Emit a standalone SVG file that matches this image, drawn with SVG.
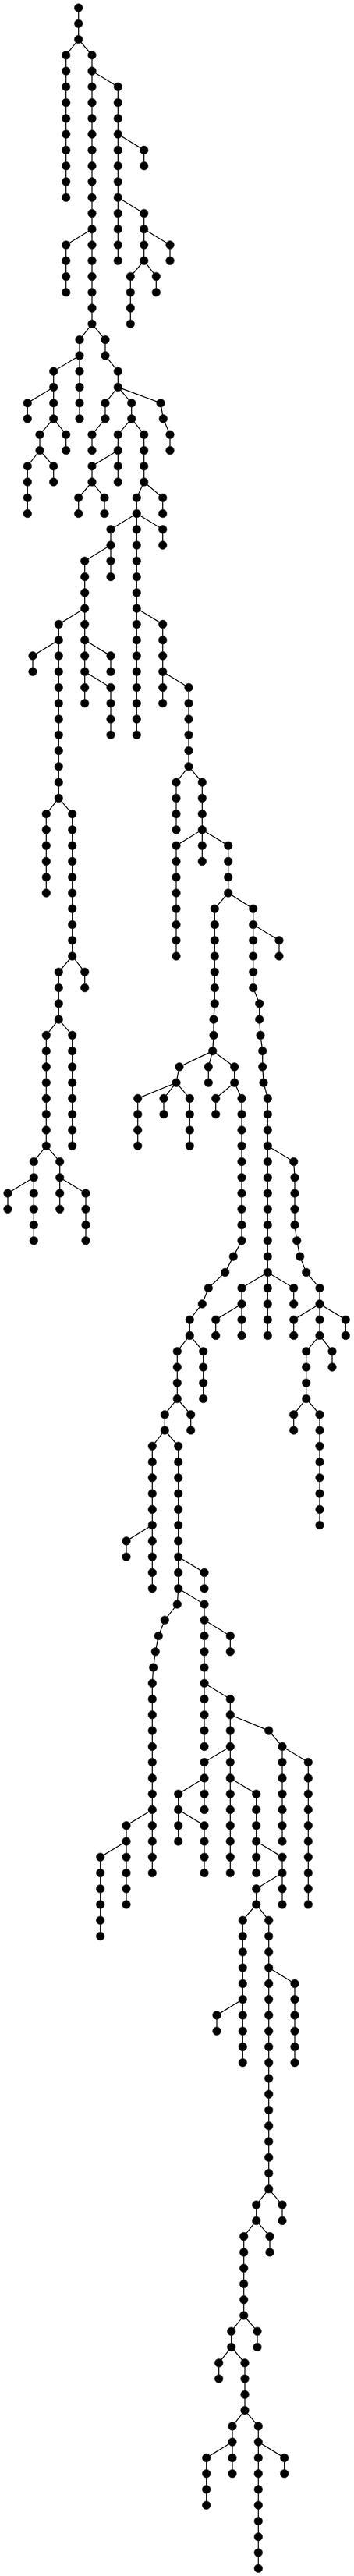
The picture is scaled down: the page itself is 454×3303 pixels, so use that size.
<svg xmlns="http://www.w3.org/2000/svg" width="454" height="3303" viewBox="0 0 454 3303">
<style>
#edges path{fill:none;stroke:#000;stroke-width:1.2}
.nodes circle{fill:#000;stroke:#222;stroke-width:0.6}
</style>
<rect width="454" height="3303" fill="#fff"/>
<g id="edges">
<path d="M100.7 10V50.5"/>
<path d="M100.7 50.5L84.7 70.8V253.2"/>
<path d="M100.7 50.5L118 70.8V415.3"/>
<path d="M118 91.1L151.3 111.3V334.3"/>
<path d="M151.3 172.1L184.7 192.4V212.7"/>
<path d="M151.3 253.2L184.7 273.5V334.3"/>
<path d="M118 293.7L84.7 314V374.8"/>
<path d="M184.7 293.7L218 314V334.3"/>
<path d="M184.7 334.3L167.3 354.5V415.3"/>
<path d="M184.7 334.3L200.3 354.5V374.8"/>
<path d="M118 415.3L102 435.6V536.9"/>
<path d="M118 415.3L135 435.6V455.9"/>
<path d="M135 455.9L151.3 476.1V496.4"/>
<path d="M102 455.9L68.7 476.1V536.9"/>
<path d="M68.7 496.4L35.3 516.7V536.9"/>
<path d="M68.7 536.9L51 557.2V577.5"/>
<path d="M68.7 536.9L84.7 557.2V577.5"/>
<path d="M151.3 496.4L135 516.7V536.9"/>
<path d="M135 536.9L118 557.2V577.5"/>
<path d="M151.3 496.4L168.7 516.7V536.9"/>
<path d="M168.7 536.9L151.3 557.2V618"/>
<path d="M168.7 536.9L184.7 557.2V618"/>
<path d="M151.3 496.4L206 516.7L209.3 536.9L218 557.2V577.5"/>
<path d="M51 577.5L35.3 597.7V658.5"/>
<path d="M51 577.5L68.7 597.7V618"/>
<path d="M151.3 577.5L118 597.7V618"/>
<path d="M118 618L100.7 638.3V658.5"/>
<path d="M118 618L134 638.3V658.5"/>
<path d="M184.7 618L175.3 638.3V658.5"/>
<path d="M184.7 618L208.7 638.3V658.5"/>
<path d="M175.3 658.5L142 678.8V739.6"/>
<path d="M175.3 658.5V942.3"/>
<path d="M175.3 658.5L208.7 678.8V699.1"/>
<path d="M142 699.1L108.7 719.3V901.7"/>
<path d="M108.7 780.1L75.3 800.4V1023.4"/>
<path d="M75.3 820.7L42 840.9V861.2"/>
<path d="M108.7 820.7L142 840.9V861.2"/>
<path d="M108.7 861.2L142 881.5V942.3"/>
<path d="M175.3 780.1L208.7 800.4V901.7"/>
<path d="M208.7 861.2L242 881.5V982.8"/>
<path d="M242 982.8L226 1003.1V1063.9"/>
<path d="M242 982.8L259.3 1003.1V1104.4"/>
<path d="M259.3 1063.9L226 1084.2V1226"/>
<path d="M259.3 1063.9L292.7 1084.2V1145"/>
<path d="M75.3 1023.4L59.3 1043.6V1145"/>
<path d="M75.3 1023.4L92.7 1043.6V1226"/>
<path d="M292.7 1145L275.3 1165.2V1286.8L274 1307.1V1327.4L272.7 1347.6"/>
<path d="M292.7 1145L324.7 1165.2V1266.6L332.7 1286.8V1307.1L334 1327.4L336.7 1347.6V1367.9L338 1388.2L343.3 1408.4V1712.4"/>
<path d="M324.7 1185.5L358 1205.8V1226"/>
<path d="M92.7 1226L75.3 1246.3V1307.1"/>
<path d="M92.7 1226L108.7 1246.3V1266.6"/>
<path d="M75.3 1307.1L59.3 1327.4V1469.2"/>
<path d="M75.3 1307.1L92.7 1327.4V1469.2"/>
<path d="M272.7 1347.6L230 1367.9L226 1388.2"/>
<path d="M272.7 1347.6L267.3 1367.9V1388.2"/>
<path d="M272.7 1347.6L300.7 1367.9V1388.2"/>
<path d="M226 1388.2L176.7 1408.4V1469.2"/>
<path d="M226 1388.2L210 1408.4V1428.7"/>
<path d="M226 1388.2L243.3 1408.4V1469.2"/>
<path d="M300.7 1388.2L276.7 1408.4V1428.7"/>
<path d="M300.7 1388.2L310 1408.4V1590.8L299.3 1611.1L288.7 1631.4L267.3 1651.6L259.3 1671.9L243.3 1692.2V1712.4"/>
<path d="M59.3 1469.2L43.3 1489.5V1590.8"/>
<path d="M59.3 1469.2L76.7 1489.5V1550.3"/>
<path d="M43.3 1509.8L10 1530V1550.3"/>
<path d="M76.7 1509.8L110 1530V1590.8"/>
<path d="M343.3 1469.2L376.7 1489.5L378 1509.8V1570.6L380.7 1590.8L384.7 1611.1L392.7 1631.4L410 1651.6V1712.4"/>
<path d="M343.3 1631.4L310 1651.6V1712.4"/>
<path d="M343.3 1631.4L376.7 1651.6V1671.9"/>
<path d="M310 1671.9L276.7 1692.2V1712.4"/>
<path d="M410 1671.9L376.7 1692.2V1712.4"/>
<path d="M410 1671.9L443.3 1692.2V1712.4"/>
<path d="M243.3 1712.4L227.3 1732.7V1793.5"/>
<path d="M243.3 1712.4L260.7 1732.7V1793.5"/>
<path d="M410 1712.4L392.7 1732.7V1793.5"/>
<path d="M410 1712.4L426 1732.7V1753"/>
<path d="M227.3 1793.5L211.3 1813.8V1834"/>
<path d="M227.3 1793.5L244.7 1813.8V1834"/>
<path d="M392.7 1793.5L376.7 1813.8V1834"/>
<path d="M392.7 1793.5L410 1813.8V1955.6"/>
<path d="M211.3 1834L195.3 1854.3V2036.7"/>
<path d="M211.3 1834L228.7 1854.3V2036.7L227.3 2057L211.3 2077.2L203.3 2097.5L199.3 2117.8L196.7 2138L195.3 2158.3V2401.5"/>
<path d="M195.3 1955.6L162 1975.9V1996.2"/>
<path d="M228.7 1996.2L262 2016.4V2036.7"/>
<path d="M228.7 2036.7L262 2057V2239.4"/>
<path d="M262 2077.2L295.3 2097.5V2117.8"/>
<path d="M262 2158.3L295.3 2178.6V2401.5"/>
<path d="M295.3 2198.8L344.7 2219.1L362 2239.4V2361"/>
<path d="M362 2239.4L395.3 2259.6V2442"/>
<path d="M295.3 2239.4L262 2259.6V2320.4"/>
<path d="M262 2279.9L228.7 2300.2V2361"/>
<path d="M228.7 2320.4L262 2340.7V2401.5"/>
<path d="M295.3 2279.9L328.7 2300.2V2401.5"/>
<path d="M328.7 2361L362 2381.2V2442"/>
<path d="M362 2401.5L328.7 2421.8V2442"/>
<path d="M195.3 2320.4L162 2340.7V2442"/>
<path d="M162 2361L128.7 2381.2V2482.6"/>
<path d="M328.7 2442L311.3 2462.3V2644.7"/>
<path d="M328.7 2442L344.7 2462.3V2806.8"/>
<path d="M311.3 2563.6L278 2583.9V2604.2"/>
<path d="M344.7 2523.1L378 2543.4V2644.7"/>
<path d="M344.7 2806.8L328.7 2827.1V2847.4"/>
<path d="M344.7 2806.8L362 2827.1V2847.4"/>
<path d="M328.7 2847.4L312.7 2867.6V2969"/>
<path d="M328.7 2847.4L346 2867.6V2887.9"/>
<path d="M312.7 2969L296.7 2989.2V3009.5"/>
<path d="M312.7 2969L330 2989.2V3009.5"/>
<path d="M296.7 3009.5L280.7 3029.8V3050.1"/>
<path d="M296.7 3009.5L314 3029.8V3090.6"/>
<path d="M314 3090.6L298 3110.9V3171.7"/>
<path d="M314 3090.6L331.3 3110.9V3293.3"/>
<path d="M298 3131.1L264.7 3151.4V3212.2"/>
<path d="M331.3 3131.1L364.7 3151.4V3171.7"/>
</g>
<g class="nodes">
<g id="s0-0"><circle cx="100.7" cy="10" r="5.3"/></g>
<g id="s0-1"><circle cx="100.7" cy="30.3" r="5.3"/></g>
<g id="s0-2"><circle cx="100.7" cy="50.5" r="5.3"/></g>
<g id="s1-3"><circle cx="84.7" cy="70.8" r="5.3"/></g>
<g id="s1-4"><circle cx="84.7" cy="91.1" r="5.3"/></g>
<g id="s1-5"><circle cx="84.7" cy="111.3" r="5.3"/></g>
<g id="s1-6"><circle cx="84.7" cy="131.6" r="5.3"/></g>
<g id="s1-7"><circle cx="84.7" cy="151.9" r="5.3"/></g>
<g id="s1-8"><circle cx="84.7" cy="172.1" r="5.3"/></g>
<g id="s1-9"><circle cx="84.7" cy="192.4" r="5.3"/></g>
<g id="s1-10"><circle cx="84.7" cy="212.7" r="5.3"/></g>
<g id="s1-11"><circle cx="84.7" cy="232.9" r="5.3"/></g>
<g id="s1-12"><circle cx="84.7" cy="253.2" r="5.3"/></g>
<g id="s2-3"><circle cx="118" cy="70.8" r="5.3"/></g>
<g id="s2-4"><circle cx="118" cy="91.1" r="5.3"/></g>
<g id="s2-5"><circle cx="118" cy="111.3" r="5.3"/></g>
<g id="s2-6"><circle cx="118" cy="131.6" r="5.3"/></g>
<g id="s2-7"><circle cx="118" cy="151.9" r="5.3"/></g>
<g id="s2-8"><circle cx="118" cy="172.1" r="5.3"/></g>
<g id="s2-9"><circle cx="118" cy="192.4" r="5.3"/></g>
<g id="s2-10"><circle cx="118" cy="212.7" r="5.3"/></g>
<g id="s2-11"><circle cx="118" cy="232.9" r="5.3"/></g>
<g id="s2-12"><circle cx="118" cy="253.2" r="5.3"/></g>
<g id="s2-13"><circle cx="118" cy="273.5" r="5.3"/></g>
<g id="s2-14"><circle cx="118" cy="293.7" r="5.3"/></g>
<g id="s2-15"><circle cx="118" cy="314" r="5.3"/></g>
<g id="s2-16"><circle cx="118" cy="334.3" r="5.3"/></g>
<g id="s2-17"><circle cx="118" cy="354.5" r="5.3"/></g>
<g id="s2-18"><circle cx="118" cy="374.8" r="5.3"/></g>
<g id="s2-19"><circle cx="118" cy="395.1" r="5.3"/></g>
<g id="s2-20"><circle cx="118" cy="415.3" r="5.3"/></g>
<g id="s3-5"><circle cx="151.3" cy="111.3" r="5.3"/></g>
<g id="s3-6"><circle cx="151.3" cy="131.6" r="5.3"/></g>
<g id="s3-7"><circle cx="151.3" cy="151.9" r="5.3"/></g>
<g id="s3-8"><circle cx="151.3" cy="172.1" r="5.3"/></g>
<g id="s3-9"><circle cx="151.3" cy="192.4" r="5.3"/></g>
<g id="s3-10"><circle cx="151.3" cy="212.7" r="5.3"/></g>
<g id="s3-11"><circle cx="151.3" cy="232.9" r="5.3"/></g>
<g id="s3-12"><circle cx="151.3" cy="253.2" r="5.3"/></g>
<g id="s3-13"><circle cx="151.3" cy="273.5" r="5.3"/></g>
<g id="s3-14"><circle cx="151.3" cy="293.7" r="5.3"/></g>
<g id="s3-15"><circle cx="151.3" cy="314" r="5.3"/></g>
<g id="s3-16"><circle cx="151.3" cy="334.3" r="5.3"/></g>
<g id="s4-9"><circle cx="184.7" cy="192.4" r="5.3"/></g>
<g id="s4-10"><circle cx="184.7" cy="212.7" r="5.3"/></g>
<g id="s5-13"><circle cx="184.7" cy="273.5" r="5.3"/></g>
<g id="s5-14"><circle cx="184.7" cy="293.7" r="5.3"/></g>
<g id="s5-15"><circle cx="184.7" cy="314" r="5.3"/></g>
<g id="s5-16"><circle cx="184.7" cy="334.3" r="5.3"/></g>
<g id="s6-15"><circle cx="84.7" cy="314" r="5.3"/></g>
<g id="s6-16"><circle cx="84.7" cy="334.3" r="5.3"/></g>
<g id="s6-17"><circle cx="84.7" cy="354.5" r="5.3"/></g>
<g id="s6-18"><circle cx="84.7" cy="374.8" r="5.3"/></g>
<g id="s7-15"><circle cx="218" cy="314" r="5.3"/></g>
<g id="s7-16"><circle cx="218" cy="334.3" r="5.3"/></g>
<g id="s8-17"><circle cx="167.3" cy="354.5" r="5.3"/></g>
<g id="s8-18"><circle cx="167.3" cy="374.8" r="5.3"/></g>
<g id="s8-19"><circle cx="167.3" cy="395.1" r="5.3"/></g>
<g id="s8-20"><circle cx="167.3" cy="415.3" r="5.3"/></g>
<g id="s9-17"><circle cx="200.3" cy="354.5" r="5.3"/></g>
<g id="s9-18"><circle cx="200.3" cy="374.8" r="5.3"/></g>
<g id="s10-21"><circle cx="102" cy="435.6" r="5.3"/></g>
<g id="s10-22"><circle cx="102" cy="455.9" r="5.3"/></g>
<g id="s10-23"><circle cx="102" cy="476.1" r="5.3"/></g>
<g id="s10-24"><circle cx="102" cy="496.4" r="5.3"/></g>
<g id="s10-25"><circle cx="102" cy="516.7" r="5.3"/></g>
<g id="s10-26"><circle cx="102" cy="536.9" r="5.3"/></g>
<g id="s11-21"><circle cx="135" cy="435.6" r="5.3"/></g>
<g id="s11-22"><circle cx="135" cy="455.9" r="5.3"/></g>
<g id="s12-23"><circle cx="151.3" cy="476.1" r="5.3"/></g>
<g id="s12-24"><circle cx="151.3" cy="496.4" r="5.3"/></g>
<g id="s13-23"><circle cx="68.7" cy="476.1" r="5.3"/></g>
<g id="s13-24"><circle cx="68.7" cy="496.4" r="5.3"/></g>
<g id="s13-25"><circle cx="68.7" cy="516.7" r="5.3"/></g>
<g id="s13-26"><circle cx="68.7" cy="536.9" r="5.3"/></g>
<g id="s14-25"><circle cx="35.3" cy="516.7" r="5.3"/></g>
<g id="s14-26"><circle cx="35.3" cy="536.9" r="5.3"/></g>
<g id="s15-27"><circle cx="51" cy="557.2" r="5.3"/></g>
<g id="s15-28"><circle cx="51" cy="577.5" r="5.3"/></g>
<g id="s16-27"><circle cx="84.7" cy="557.2" r="5.3"/></g>
<g id="s16-28"><circle cx="84.7" cy="577.5" r="5.3"/></g>
<g id="s17-25"><circle cx="135" cy="516.7" r="5.3"/></g>
<g id="s17-26"><circle cx="135" cy="536.9" r="5.3"/></g>
<g id="s18-27"><circle cx="118" cy="557.2" r="5.3"/></g>
<g id="s18-28"><circle cx="118" cy="577.5" r="5.3"/></g>
<g id="s19-25"><circle cx="168.7" cy="516.7" r="5.3"/></g>
<g id="s19-26"><circle cx="168.7" cy="536.9" r="5.3"/></g>
<g id="s20-27"><circle cx="151.3" cy="557.2" r="5.3"/></g>
<g id="s20-28"><circle cx="151.3" cy="577.5" r="5.3"/></g>
<g id="s20-29"><circle cx="151.3" cy="597.7" r="5.3"/></g>
<g id="s20-30"><circle cx="151.3" cy="618" r="5.3"/></g>
<g id="s21-27"><circle cx="184.7" cy="557.2" r="5.3"/></g>
<g id="s21-28"><circle cx="184.7" cy="577.5" r="5.3"/></g>
<g id="s21-29"><circle cx="184.7" cy="597.7" r="5.3"/></g>
<g id="s21-30"><circle cx="184.7" cy="618" r="5.3"/></g>
<g id="s22-25"><circle cx="206" cy="516.7" r="5.3"/></g>
<g id="s22-26"><circle cx="209.3" cy="536.9" r="5.3"/></g>
<g id="s22-27"><circle cx="218" cy="557.2" r="5.3"/></g>
<g id="s22-28"><circle cx="218" cy="577.5" r="5.3"/></g>
<g id="s23-29"><circle cx="35.3" cy="597.7" r="5.3"/></g>
<g id="s23-30"><circle cx="35.3" cy="618" r="5.3"/></g>
<g id="s23-31"><circle cx="35.3" cy="638.3" r="5.3"/></g>
<g id="s23-32"><circle cx="35.3" cy="658.5" r="5.3"/></g>
<g id="s24-29"><circle cx="68.7" cy="597.7" r="5.3"/></g>
<g id="s24-30"><circle cx="68.7" cy="618" r="5.3"/></g>
<g id="s25-29"><circle cx="118" cy="597.7" r="5.3"/></g>
<g id="s25-30"><circle cx="118" cy="618" r="5.3"/></g>
<g id="s26-31"><circle cx="100.7" cy="638.3" r="5.3"/></g>
<g id="s26-32"><circle cx="100.7" cy="658.5" r="5.3"/></g>
<g id="s27-31"><circle cx="134" cy="638.3" r="5.3"/></g>
<g id="s27-32"><circle cx="134" cy="658.5" r="5.3"/></g>
<g id="s28-31"><circle cx="175.3" cy="638.3" r="5.3"/></g>
<g id="s28-32"><circle cx="175.3" cy="658.5" r="5.3"/></g>
<g id="s29-31"><circle cx="208.7" cy="638.3" r="5.3"/></g>
<g id="s29-32"><circle cx="208.7" cy="658.5" r="5.3"/></g>
<g id="s30-33"><circle cx="142" cy="678.8" r="5.3"/></g>
<g id="s30-34"><circle cx="142" cy="699.1" r="5.3"/></g>
<g id="s30-35"><circle cx="142" cy="719.3" r="5.3"/></g>
<g id="s30-36"><circle cx="142" cy="739.6" r="5.3"/></g>
<g id="s31-33"><circle cx="175.3" cy="678.8" r="5.3"/></g>
<g id="s31-34"><circle cx="175.3" cy="699.1" r="5.3"/></g>
<g id="s31-35"><circle cx="175.3" cy="719.3" r="5.3"/></g>
<g id="s31-36"><circle cx="175.3" cy="739.6" r="5.3"/></g>
<g id="s31-37"><circle cx="175.3" cy="759.9" r="5.3"/></g>
<g id="s31-38"><circle cx="175.3" cy="780.1" r="5.3"/></g>
<g id="s31-39"><circle cx="175.3" cy="800.4" r="5.3"/></g>
<g id="s31-40"><circle cx="175.3" cy="820.7" r="5.3"/></g>
<g id="s31-41"><circle cx="175.3" cy="840.9" r="5.3"/></g>
<g id="s31-42"><circle cx="175.3" cy="861.2" r="5.3"/></g>
<g id="s31-43"><circle cx="175.3" cy="881.5" r="5.3"/></g>
<g id="s31-44"><circle cx="175.3" cy="901.7" r="5.3"/></g>
<g id="s31-45"><circle cx="175.3" cy="922" r="5.3"/></g>
<g id="s31-46"><circle cx="175.3" cy="942.3" r="5.3"/></g>
<g id="s32-33"><circle cx="208.7" cy="678.8" r="5.3"/></g>
<g id="s32-34"><circle cx="208.7" cy="699.1" r="5.3"/></g>
<g id="s33-35"><circle cx="108.7" cy="719.3" r="5.3"/></g>
<g id="s33-36"><circle cx="108.7" cy="739.6" r="5.3"/></g>
<g id="s33-37"><circle cx="108.7" cy="759.9" r="5.3"/></g>
<g id="s33-38"><circle cx="108.7" cy="780.1" r="5.3"/></g>
<g id="s33-39"><circle cx="108.7" cy="800.4" r="5.3"/></g>
<g id="s33-40"><circle cx="108.7" cy="820.7" r="5.3"/></g>
<g id="s33-41"><circle cx="108.7" cy="840.9" r="5.3"/></g>
<g id="s33-42"><circle cx="108.7" cy="861.2" r="5.3"/></g>
<g id="s33-43"><circle cx="108.7" cy="881.5" r="5.3"/></g>
<g id="s33-44"><circle cx="108.7" cy="901.7" r="5.3"/></g>
<g id="s34-39"><circle cx="75.3" cy="800.4" r="5.3"/></g>
<g id="s34-40"><circle cx="75.3" cy="820.7" r="5.3"/></g>
<g id="s34-41"><circle cx="75.3" cy="840.9" r="5.3"/></g>
<g id="s34-42"><circle cx="75.3" cy="861.2" r="5.3"/></g>
<g id="s34-43"><circle cx="75.3" cy="881.5" r="5.3"/></g>
<g id="s34-44"><circle cx="75.3" cy="901.7" r="5.3"/></g>
<g id="s34-45"><circle cx="75.3" cy="922" r="5.3"/></g>
<g id="s34-46"><circle cx="75.3" cy="942.3" r="5.3"/></g>
<g id="s34-47"><circle cx="75.3" cy="962.5" r="5.3"/></g>
<g id="s34-48"><circle cx="75.3" cy="982.8" r="5.3"/></g>
<g id="s34-49"><circle cx="75.3" cy="1003.1" r="5.3"/></g>
<g id="s34-50"><circle cx="75.3" cy="1023.4" r="5.3"/></g>
<g id="s35-41"><circle cx="42" cy="840.9" r="5.3"/></g>
<g id="s35-42"><circle cx="42" cy="861.2" r="5.3"/></g>
<g id="s36-41"><circle cx="142" cy="840.9" r="5.3"/></g>
<g id="s36-42"><circle cx="142" cy="861.2" r="5.3"/></g>
<g id="s37-43"><circle cx="142" cy="881.5" r="5.3"/></g>
<g id="s37-44"><circle cx="142" cy="901.7" r="5.3"/></g>
<g id="s37-45"><circle cx="142" cy="922" r="5.3"/></g>
<g id="s37-46"><circle cx="142" cy="942.3" r="5.3"/></g>
<g id="s38-39"><circle cx="208.7" cy="800.4" r="5.3"/></g>
<g id="s38-40"><circle cx="208.7" cy="820.7" r="5.3"/></g>
<g id="s38-41"><circle cx="208.7" cy="840.9" r="5.3"/></g>
<g id="s38-42"><circle cx="208.7" cy="861.2" r="5.3"/></g>
<g id="s38-43"><circle cx="208.7" cy="881.5" r="5.3"/></g>
<g id="s38-44"><circle cx="208.7" cy="901.7" r="5.3"/></g>
<g id="s39-43"><circle cx="242" cy="881.5" r="5.3"/></g>
<g id="s39-44"><circle cx="242" cy="901.7" r="5.3"/></g>
<g id="s39-45"><circle cx="242" cy="922" r="5.3"/></g>
<g id="s39-46"><circle cx="242" cy="942.3" r="5.3"/></g>
<g id="s39-47"><circle cx="242" cy="962.5" r="5.3"/></g>
<g id="s39-48"><circle cx="242" cy="982.8" r="5.3"/></g>
<g id="s40-49"><circle cx="226" cy="1003.1" r="5.3"/></g>
<g id="s40-50"><circle cx="226" cy="1023.4" r="5.3"/></g>
<g id="s40-51"><circle cx="226" cy="1043.6" r="5.3"/></g>
<g id="s40-52"><circle cx="226" cy="1063.9" r="5.3"/></g>
<g id="s41-49"><circle cx="259.3" cy="1003.1" r="5.3"/></g>
<g id="s41-50"><circle cx="259.3" cy="1023.4" r="5.3"/></g>
<g id="s41-51"><circle cx="259.3" cy="1043.6" r="5.3"/></g>
<g id="s41-52"><circle cx="259.3" cy="1063.9" r="5.3"/></g>
<g id="s41-53"><circle cx="259.3" cy="1084.2" r="5.3"/></g>
<g id="s41-54"><circle cx="259.3" cy="1104.4" r="5.3"/></g>
<g id="s42-53"><circle cx="226" cy="1084.2" r="5.3"/></g>
<g id="s42-54"><circle cx="226" cy="1104.4" r="5.3"/></g>
<g id="s42-55"><circle cx="226" cy="1124.7" r="5.3"/></g>
<g id="s42-56"><circle cx="226" cy="1145" r="5.3"/></g>
<g id="s42-57"><circle cx="226" cy="1165.2" r="5.3"/></g>
<g id="s42-58"><circle cx="226" cy="1185.5" r="5.3"/></g>
<g id="s42-59"><circle cx="226" cy="1205.8" r="5.3"/></g>
<g id="s42-60"><circle cx="226" cy="1226" r="5.3"/></g>
<g id="s43-53"><circle cx="292.7" cy="1084.2" r="5.3"/></g>
<g id="s43-54"><circle cx="292.7" cy="1104.4" r="5.3"/></g>
<g id="s43-55"><circle cx="292.7" cy="1124.7" r="5.3"/></g>
<g id="s43-56"><circle cx="292.7" cy="1145" r="5.3"/></g>
<g id="s44-51"><circle cx="59.3" cy="1043.6" r="5.3"/></g>
<g id="s44-52"><circle cx="59.3" cy="1063.9" r="5.3"/></g>
<g id="s44-53"><circle cx="59.3" cy="1084.2" r="5.3"/></g>
<g id="s44-54"><circle cx="59.3" cy="1104.4" r="5.3"/></g>
<g id="s44-55"><circle cx="59.3" cy="1124.7" r="5.3"/></g>
<g id="s44-56"><circle cx="59.3" cy="1145" r="5.3"/></g>
<g id="s45-51"><circle cx="92.7" cy="1043.6" r="5.3"/></g>
<g id="s45-52"><circle cx="92.7" cy="1063.9" r="5.3"/></g>
<g id="s45-53"><circle cx="92.7" cy="1084.2" r="5.3"/></g>
<g id="s45-54"><circle cx="92.7" cy="1104.4" r="5.3"/></g>
<g id="s45-55"><circle cx="92.7" cy="1124.7" r="5.3"/></g>
<g id="s45-56"><circle cx="92.7" cy="1145" r="5.3"/></g>
<g id="s45-57"><circle cx="92.7" cy="1165.2" r="5.3"/></g>
<g id="s45-58"><circle cx="92.7" cy="1185.5" r="5.3"/></g>
<g id="s45-59"><circle cx="92.7" cy="1205.8" r="5.3"/></g>
<g id="s45-60"><circle cx="92.7" cy="1226" r="5.3"/></g>
<g id="s46-57"><circle cx="275.3" cy="1165.2" r="5.3"/></g>
<g id="s46-58"><circle cx="275.3" cy="1185.5" r="5.3"/></g>
<g id="s46-59"><circle cx="275.3" cy="1205.8" r="5.3"/></g>
<g id="s46-60"><circle cx="275.3" cy="1226" r="5.3"/></g>
<g id="s46-61"><circle cx="275.3" cy="1246.3" r="5.3"/></g>
<g id="s46-62"><circle cx="275.3" cy="1266.6" r="5.3"/></g>
<g id="s46-63"><circle cx="275.3" cy="1286.8" r="5.3"/></g>
<g id="s46-64"><circle cx="274" cy="1307.1" r="5.3"/></g>
<g id="s46-65"><circle cx="274" cy="1327.4" r="5.3"/></g>
<g id="s46-66"><circle cx="272.7" cy="1347.6" r="5.3"/></g>
<g id="s47-57"><circle cx="324.7" cy="1165.2" r="5.3"/></g>
<g id="s47-58"><circle cx="324.7" cy="1185.5" r="5.3"/></g>
<g id="s47-59"><circle cx="324.7" cy="1205.8" r="5.3"/></g>
<g id="s47-60"><circle cx="324.7" cy="1226" r="5.3"/></g>
<g id="s47-61"><circle cx="324.7" cy="1246.3" r="5.3"/></g>
<g id="s47-62"><circle cx="324.7" cy="1266.6" r="5.3"/></g>
<g id="s47-63"><circle cx="332.7" cy="1286.8" r="5.3"/></g>
<g id="s47-64"><circle cx="332.7" cy="1307.1" r="5.3"/></g>
<g id="s47-65"><circle cx="334" cy="1327.4" r="5.3"/></g>
<g id="s47-66"><circle cx="336.7" cy="1347.6" r="5.3"/></g>
<g id="s47-67"><circle cx="336.7" cy="1367.9" r="5.3"/></g>
<g id="s47-68"><circle cx="338" cy="1388.2" r="5.3"/></g>
<g id="s47-69"><circle cx="343.3" cy="1408.4" r="5.3"/></g>
<g id="s47-70"><circle cx="343.3" cy="1428.7" r="5.3"/></g>
<g id="s47-71"><circle cx="343.3" cy="1449" r="5.3"/></g>
<g id="s47-72"><circle cx="343.3" cy="1469.2" r="5.3"/></g>
<g id="s47-73"><circle cx="343.3" cy="1489.5" r="5.3"/></g>
<g id="s47-74"><circle cx="343.3" cy="1509.8" r="5.3"/></g>
<g id="s47-75"><circle cx="343.3" cy="1530" r="5.3"/></g>
<g id="s47-76"><circle cx="343.3" cy="1550.3" r="5.3"/></g>
<g id="s47-77"><circle cx="343.3" cy="1570.6" r="5.3"/></g>
<g id="s47-78"><circle cx="343.3" cy="1590.8" r="5.3"/></g>
<g id="s47-79"><circle cx="343.3" cy="1611.1" r="5.3"/></g>
<g id="s47-80"><circle cx="343.3" cy="1631.4" r="5.3"/></g>
<g id="s47-81"><circle cx="343.3" cy="1651.6" r="5.3"/></g>
<g id="s47-82"><circle cx="343.3" cy="1671.9" r="5.3"/></g>
<g id="s47-83"><circle cx="343.3" cy="1692.2" r="5.3"/></g>
<g id="s47-84"><circle cx="343.3" cy="1712.4" r="5.3"/></g>
<g id="s48-59"><circle cx="358" cy="1205.8" r="5.3"/></g>
<g id="s48-60"><circle cx="358" cy="1226" r="5.3"/></g>
<g id="s49-61"><circle cx="75.3" cy="1246.3" r="5.3"/></g>
<g id="s49-62"><circle cx="75.3" cy="1266.6" r="5.3"/></g>
<g id="s49-63"><circle cx="75.3" cy="1286.8" r="5.3"/></g>
<g id="s49-64"><circle cx="75.3" cy="1307.1" r="5.3"/></g>
<g id="s50-61"><circle cx="108.7" cy="1246.3" r="5.3"/></g>
<g id="s50-62"><circle cx="108.7" cy="1266.6" r="5.3"/></g>
<g id="s51-65"><circle cx="59.3" cy="1327.4" r="5.3"/></g>
<g id="s51-66"><circle cx="59.3" cy="1347.6" r="5.3"/></g>
<g id="s51-67"><circle cx="59.3" cy="1367.9" r="5.3"/></g>
<g id="s51-68"><circle cx="59.3" cy="1388.2" r="5.3"/></g>
<g id="s51-69"><circle cx="59.3" cy="1408.4" r="5.3"/></g>
<g id="s51-70"><circle cx="59.3" cy="1428.7" r="5.3"/></g>
<g id="s51-71"><circle cx="59.3" cy="1449" r="5.3"/></g>
<g id="s51-72"><circle cx="59.3" cy="1469.2" r="5.3"/></g>
<g id="s52-65"><circle cx="92.7" cy="1327.4" r="5.3"/></g>
<g id="s52-66"><circle cx="92.7" cy="1347.6" r="5.3"/></g>
<g id="s52-67"><circle cx="92.7" cy="1367.9" r="5.3"/></g>
<g id="s52-68"><circle cx="92.7" cy="1388.2" r="5.3"/></g>
<g id="s52-69"><circle cx="92.7" cy="1408.4" r="5.3"/></g>
<g id="s52-70"><circle cx="92.7" cy="1428.7" r="5.3"/></g>
<g id="s52-71"><circle cx="92.7" cy="1449" r="5.3"/></g>
<g id="s52-72"><circle cx="92.7" cy="1469.2" r="5.3"/></g>
<g id="s53-67"><circle cx="230" cy="1367.9" r="5.3"/></g>
<g id="s53-68"><circle cx="226" cy="1388.2" r="5.3"/></g>
<g id="s54-67"><circle cx="267.3" cy="1367.9" r="5.3"/></g>
<g id="s54-68"><circle cx="267.3" cy="1388.2" r="5.3"/></g>
<g id="s55-67"><circle cx="300.7" cy="1367.9" r="5.3"/></g>
<g id="s55-68"><circle cx="300.7" cy="1388.2" r="5.3"/></g>
<g id="s56-69"><circle cx="176.7" cy="1408.4" r="5.3"/></g>
<g id="s56-70"><circle cx="176.7" cy="1428.7" r="5.3"/></g>
<g id="s56-71"><circle cx="176.7" cy="1449" r="5.3"/></g>
<g id="s56-72"><circle cx="176.7" cy="1469.2" r="5.3"/></g>
<g id="s57-69"><circle cx="210" cy="1408.4" r="5.3"/></g>
<g id="s57-70"><circle cx="210" cy="1428.7" r="5.3"/></g>
<g id="s58-69"><circle cx="243.3" cy="1408.4" r="5.3"/></g>
<g id="s58-70"><circle cx="243.3" cy="1428.7" r="5.3"/></g>
<g id="s58-71"><circle cx="243.3" cy="1449" r="5.3"/></g>
<g id="s58-72"><circle cx="243.3" cy="1469.2" r="5.3"/></g>
<g id="s59-69"><circle cx="276.7" cy="1408.4" r="5.3"/></g>
<g id="s59-70"><circle cx="276.7" cy="1428.7" r="5.3"/></g>
<g id="s60-69"><circle cx="310" cy="1408.4" r="5.3"/></g>
<g id="s60-70"><circle cx="310" cy="1428.7" r="5.3"/></g>
<g id="s60-71"><circle cx="310" cy="1449" r="5.3"/></g>
<g id="s60-72"><circle cx="310" cy="1469.2" r="5.3"/></g>
<g id="s60-73"><circle cx="310" cy="1489.5" r="5.3"/></g>
<g id="s60-74"><circle cx="310" cy="1509.8" r="5.3"/></g>
<g id="s60-75"><circle cx="310" cy="1530" r="5.3"/></g>
<g id="s60-76"><circle cx="310" cy="1550.3" r="5.3"/></g>
<g id="s60-77"><circle cx="310" cy="1570.6" r="5.3"/></g>
<g id="s60-78"><circle cx="310" cy="1590.8" r="5.3"/></g>
<g id="s60-79"><circle cx="299.3" cy="1611.1" r="5.3"/></g>
<g id="s60-80"><circle cx="288.7" cy="1631.4" r="5.3"/></g>
<g id="s60-81"><circle cx="267.3" cy="1651.6" r="5.3"/></g>
<g id="s60-82"><circle cx="259.3" cy="1671.9" r="5.3"/></g>
<g id="s60-83"><circle cx="243.3" cy="1692.2" r="5.3"/></g>
<g id="s60-84"><circle cx="243.3" cy="1712.4" r="5.3"/></g>
<g id="s61-73"><circle cx="43.3" cy="1489.5" r="5.3"/></g>
<g id="s61-74"><circle cx="43.3" cy="1509.8" r="5.3"/></g>
<g id="s61-75"><circle cx="43.3" cy="1530" r="5.3"/></g>
<g id="s61-76"><circle cx="43.3" cy="1550.3" r="5.3"/></g>
<g id="s61-77"><circle cx="43.3" cy="1570.6" r="5.3"/></g>
<g id="s61-78"><circle cx="43.3" cy="1590.8" r="5.3"/></g>
<g id="s62-73"><circle cx="76.7" cy="1489.5" r="5.3"/></g>
<g id="s62-74"><circle cx="76.7" cy="1509.8" r="5.3"/></g>
<g id="s62-75"><circle cx="76.7" cy="1530" r="5.3"/></g>
<g id="s62-76"><circle cx="76.7" cy="1550.3" r="5.3"/></g>
<g id="s63-75"><circle cx="10" cy="1530" r="5.3"/></g>
<g id="s63-76"><circle cx="10" cy="1550.3" r="5.3"/></g>
<g id="s64-75"><circle cx="110" cy="1530" r="5.3"/></g>
<g id="s64-76"><circle cx="110" cy="1550.3" r="5.3"/></g>
<g id="s64-77"><circle cx="110" cy="1570.6" r="5.3"/></g>
<g id="s64-78"><circle cx="110" cy="1590.8" r="5.3"/></g>
<g id="s65-73"><circle cx="376.7" cy="1489.5" r="5.3"/></g>
<g id="s65-74"><circle cx="378" cy="1509.8" r="5.3"/></g>
<g id="s65-75"><circle cx="378" cy="1530" r="5.3"/></g>
<g id="s65-76"><circle cx="378" cy="1550.3" r="5.3"/></g>
<g id="s65-77"><circle cx="378" cy="1570.6" r="5.3"/></g>
<g id="s65-78"><circle cx="380.7" cy="1590.8" r="5.3"/></g>
<g id="s65-79"><circle cx="384.7" cy="1611.1" r="5.3"/></g>
<g id="s65-80"><circle cx="392.7" cy="1631.4" r="5.3"/></g>
<g id="s65-81"><circle cx="410" cy="1651.6" r="5.3"/></g>
<g id="s65-82"><circle cx="410" cy="1671.9" r="5.3"/></g>
<g id="s65-83"><circle cx="410" cy="1692.2" r="5.3"/></g>
<g id="s65-84"><circle cx="410" cy="1712.4" r="5.3"/></g>
<g id="s66-81"><circle cx="310" cy="1651.6" r="5.3"/></g>
<g id="s66-82"><circle cx="310" cy="1671.9" r="5.3"/></g>
<g id="s66-83"><circle cx="310" cy="1692.2" r="5.3"/></g>
<g id="s66-84"><circle cx="310" cy="1712.4" r="5.3"/></g>
<g id="s67-81"><circle cx="376.7" cy="1651.6" r="5.3"/></g>
<g id="s67-82"><circle cx="376.7" cy="1671.9" r="5.3"/></g>
<g id="s68-83"><circle cx="276.7" cy="1692.2" r="5.3"/></g>
<g id="s68-84"><circle cx="276.7" cy="1712.4" r="5.3"/></g>
<g id="s69-83"><circle cx="376.7" cy="1692.2" r="5.3"/></g>
<g id="s69-84"><circle cx="376.7" cy="1712.4" r="5.3"/></g>
<g id="s70-83"><circle cx="443.3" cy="1692.2" r="5.3"/></g>
<g id="s70-84"><circle cx="443.3" cy="1712.4" r="5.3"/></g>
<g id="s71-85"><circle cx="227.3" cy="1732.7" r="5.3"/></g>
<g id="s71-86"><circle cx="227.3" cy="1753" r="5.3"/></g>
<g id="s71-87"><circle cx="227.3" cy="1773.2" r="5.3"/></g>
<g id="s71-88"><circle cx="227.3" cy="1793.5" r="5.3"/></g>
<g id="s72-85"><circle cx="260.7" cy="1732.7" r="5.3"/></g>
<g id="s72-86"><circle cx="260.7" cy="1753" r="5.3"/></g>
<g id="s72-87"><circle cx="260.7" cy="1773.2" r="5.3"/></g>
<g id="s72-88"><circle cx="260.7" cy="1793.5" r="5.3"/></g>
<g id="s73-85"><circle cx="392.7" cy="1732.7" r="5.3"/></g>
<g id="s73-86"><circle cx="392.7" cy="1753" r="5.3"/></g>
<g id="s73-87"><circle cx="392.7" cy="1773.2" r="5.3"/></g>
<g id="s73-88"><circle cx="392.7" cy="1793.5" r="5.3"/></g>
<g id="s74-85"><circle cx="426" cy="1732.7" r="5.3"/></g>
<g id="s74-86"><circle cx="426" cy="1753" r="5.3"/></g>
<g id="s75-89"><circle cx="211.3" cy="1813.8" r="5.3"/></g>
<g id="s75-90"><circle cx="211.3" cy="1834" r="5.3"/></g>
<g id="s76-89"><circle cx="244.7" cy="1813.8" r="5.3"/></g>
<g id="s76-90"><circle cx="244.7" cy="1834" r="5.3"/></g>
<g id="s77-89"><circle cx="376.7" cy="1813.8" r="5.3"/></g>
<g id="s77-90"><circle cx="376.7" cy="1834" r="5.3"/></g>
<g id="s78-89"><circle cx="410" cy="1813.8" r="5.3"/></g>
<g id="s78-90"><circle cx="410" cy="1834" r="5.3"/></g>
<g id="s78-91"><circle cx="410" cy="1854.3" r="5.3"/></g>
<g id="s78-92"><circle cx="410" cy="1874.6" r="5.3"/></g>
<g id="s78-93"><circle cx="410" cy="1894.8" r="5.3"/></g>
<g id="s78-94"><circle cx="410" cy="1915.1" r="5.3"/></g>
<g id="s78-95"><circle cx="410" cy="1935.4" r="5.3"/></g>
<g id="s78-96"><circle cx="410" cy="1955.6" r="5.3"/></g>
<g id="s79-91"><circle cx="195.3" cy="1854.3" r="5.3"/></g>
<g id="s79-92"><circle cx="195.3" cy="1874.6" r="5.3"/></g>
<g id="s79-93"><circle cx="195.3" cy="1894.8" r="5.3"/></g>
<g id="s79-94"><circle cx="195.3" cy="1915.1" r="5.3"/></g>
<g id="s79-95"><circle cx="195.3" cy="1935.4" r="5.3"/></g>
<g id="s79-96"><circle cx="195.3" cy="1955.6" r="5.3"/></g>
<g id="s79-97"><circle cx="195.3" cy="1975.9" r="5.3"/></g>
<g id="s79-98"><circle cx="195.3" cy="1996.2" r="5.3"/></g>
<g id="s79-99"><circle cx="195.3" cy="2016.4" r="5.3"/></g>
<g id="s79-100"><circle cx="195.3" cy="2036.7" r="5.3"/></g>
<g id="s80-91"><circle cx="228.7" cy="1854.3" r="5.3"/></g>
<g id="s80-92"><circle cx="228.7" cy="1874.6" r="5.3"/></g>
<g id="s80-93"><circle cx="228.7" cy="1894.8" r="5.3"/></g>
<g id="s80-94"><circle cx="228.7" cy="1915.1" r="5.3"/></g>
<g id="s80-95"><circle cx="228.7" cy="1935.4" r="5.3"/></g>
<g id="s80-96"><circle cx="228.7" cy="1955.6" r="5.3"/></g>
<g id="s80-97"><circle cx="228.7" cy="1975.9" r="5.3"/></g>
<g id="s80-98"><circle cx="228.7" cy="1996.2" r="5.3"/></g>
<g id="s80-99"><circle cx="228.7" cy="2016.4" r="5.3"/></g>
<g id="s80-100"><circle cx="228.7" cy="2036.7" r="5.3"/></g>
<g id="s80-101"><circle cx="227.3" cy="2057" r="5.3"/></g>
<g id="s80-102"><circle cx="211.3" cy="2077.2" r="5.3"/></g>
<g id="s80-103"><circle cx="203.3" cy="2097.5" r="5.3"/></g>
<g id="s80-104"><circle cx="199.3" cy="2117.8" r="5.3"/></g>
<g id="s80-105"><circle cx="196.7" cy="2138" r="5.3"/></g>
<g id="s80-106"><circle cx="195.3" cy="2158.3" r="5.3"/></g>
<g id="s80-107"><circle cx="195.3" cy="2178.6" r="5.3"/></g>
<g id="s80-108"><circle cx="195.3" cy="2198.8" r="5.3"/></g>
<g id="s80-109"><circle cx="195.3" cy="2219.1" r="5.3"/></g>
<g id="s80-110"><circle cx="195.3" cy="2239.4" r="5.3"/></g>
<g id="s80-111"><circle cx="195.3" cy="2259.6" r="5.3"/></g>
<g id="s80-112"><circle cx="195.3" cy="2279.9" r="5.3"/></g>
<g id="s80-113"><circle cx="195.3" cy="2300.2" r="5.3"/></g>
<g id="s80-114"><circle cx="195.3" cy="2320.4" r="5.3"/></g>
<g id="s80-115"><circle cx="195.3" cy="2340.7" r="5.3"/></g>
<g id="s80-116"><circle cx="195.3" cy="2361" r="5.3"/></g>
<g id="s80-117"><circle cx="195.3" cy="2381.2" r="5.3"/></g>
<g id="s80-118"><circle cx="195.3" cy="2401.5" r="5.3"/></g>
<g id="s81-97"><circle cx="162" cy="1975.9" r="5.3"/></g>
<g id="s81-98"><circle cx="162" cy="1996.2" r="5.3"/></g>
<g id="s82-99"><circle cx="262" cy="2016.4" r="5.3"/></g>
<g id="s82-100"><circle cx="262" cy="2036.7" r="5.3"/></g>
<g id="s83-101"><circle cx="262" cy="2057" r="5.3"/></g>
<g id="s83-102"><circle cx="262" cy="2077.2" r="5.3"/></g>
<g id="s83-103"><circle cx="262" cy="2097.5" r="5.3"/></g>
<g id="s83-104"><circle cx="262" cy="2117.8" r="5.3"/></g>
<g id="s83-105"><circle cx="262" cy="2138" r="5.3"/></g>
<g id="s83-106"><circle cx="262" cy="2158.3" r="5.3"/></g>
<g id="s83-107"><circle cx="262" cy="2178.6" r="5.3"/></g>
<g id="s83-108"><circle cx="262" cy="2198.8" r="5.3"/></g>
<g id="s83-109"><circle cx="262" cy="2219.1" r="5.3"/></g>
<g id="s83-110"><circle cx="262" cy="2239.4" r="5.3"/></g>
<g id="s84-103"><circle cx="295.3" cy="2097.5" r="5.3"/></g>
<g id="s84-104"><circle cx="295.3" cy="2117.8" r="5.3"/></g>
<g id="s85-107"><circle cx="295.3" cy="2178.6" r="5.3"/></g>
<g id="s85-108"><circle cx="295.3" cy="2198.8" r="5.3"/></g>
<g id="s85-109"><circle cx="295.3" cy="2219.1" r="5.3"/></g>
<g id="s85-110"><circle cx="295.3" cy="2239.4" r="5.3"/></g>
<g id="s85-111"><circle cx="295.3" cy="2259.6" r="5.3"/></g>
<g id="s85-112"><circle cx="295.3" cy="2279.9" r="5.3"/></g>
<g id="s85-113"><circle cx="295.3" cy="2300.2" r="5.3"/></g>
<g id="s85-114"><circle cx="295.3" cy="2320.4" r="5.3"/></g>
<g id="s85-115"><circle cx="295.3" cy="2340.7" r="5.3"/></g>
<g id="s85-116"><circle cx="295.3" cy="2361" r="5.3"/></g>
<g id="s85-117"><circle cx="295.3" cy="2381.2" r="5.3"/></g>
<g id="s85-118"><circle cx="295.3" cy="2401.5" r="5.3"/></g>
<g id="s86-109"><circle cx="344.7" cy="2219.1" r="5.3"/></g>
<g id="s86-110"><circle cx="362" cy="2239.4" r="5.3"/></g>
<g id="s86-111"><circle cx="362" cy="2259.6" r="5.3"/></g>
<g id="s86-112"><circle cx="362" cy="2279.9" r="5.3"/></g>
<g id="s86-113"><circle cx="362" cy="2300.2" r="5.3"/></g>
<g id="s86-114"><circle cx="362" cy="2320.4" r="5.3"/></g>
<g id="s86-115"><circle cx="362" cy="2340.7" r="5.3"/></g>
<g id="s86-116"><circle cx="362" cy="2361" r="5.3"/></g>
<g id="s87-111"><circle cx="395.3" cy="2259.6" r="5.3"/></g>
<g id="s87-112"><circle cx="395.3" cy="2279.9" r="5.3"/></g>
<g id="s87-113"><circle cx="395.3" cy="2300.2" r="5.3"/></g>
<g id="s87-114"><circle cx="395.3" cy="2320.4" r="5.3"/></g>
<g id="s87-115"><circle cx="395.3" cy="2340.7" r="5.3"/></g>
<g id="s87-116"><circle cx="395.3" cy="2361" r="5.3"/></g>
<g id="s87-117"><circle cx="395.3" cy="2381.2" r="5.3"/></g>
<g id="s87-118"><circle cx="395.3" cy="2401.5" r="5.3"/></g>
<g id="s87-119"><circle cx="395.3" cy="2421.8" r="5.3"/></g>
<g id="s87-120"><circle cx="395.3" cy="2442" r="5.3"/></g>
<g id="s88-111"><circle cx="262" cy="2259.6" r="5.3"/></g>
<g id="s88-112"><circle cx="262" cy="2279.9" r="5.3"/></g>
<g id="s88-113"><circle cx="262" cy="2300.2" r="5.3"/></g>
<g id="s88-114"><circle cx="262" cy="2320.4" r="5.3"/></g>
<g id="s89-113"><circle cx="228.7" cy="2300.2" r="5.3"/></g>
<g id="s89-114"><circle cx="228.7" cy="2320.4" r="5.3"/></g>
<g id="s89-115"><circle cx="228.7" cy="2340.7" r="5.3"/></g>
<g id="s89-116"><circle cx="228.7" cy="2361" r="5.3"/></g>
<g id="s90-115"><circle cx="262" cy="2340.7" r="5.3"/></g>
<g id="s90-116"><circle cx="262" cy="2361" r="5.3"/></g>
<g id="s90-117"><circle cx="262" cy="2381.2" r="5.3"/></g>
<g id="s90-118"><circle cx="262" cy="2401.5" r="5.3"/></g>
<g id="s91-113"><circle cx="328.7" cy="2300.2" r="5.3"/></g>
<g id="s91-114"><circle cx="328.7" cy="2320.4" r="5.3"/></g>
<g id="s91-115"><circle cx="328.7" cy="2340.7" r="5.3"/></g>
<g id="s91-116"><circle cx="328.7" cy="2361" r="5.3"/></g>
<g id="s91-117"><circle cx="328.7" cy="2381.2" r="5.3"/></g>
<g id="s91-118"><circle cx="328.7" cy="2401.5" r="5.3"/></g>
<g id="s92-117"><circle cx="362" cy="2381.2" r="5.3"/></g>
<g id="s92-118"><circle cx="362" cy="2401.5" r="5.3"/></g>
<g id="s92-119"><circle cx="362" cy="2421.8" r="5.3"/></g>
<g id="s92-120"><circle cx="362" cy="2442" r="5.3"/></g>
<g id="s93-119"><circle cx="328.7" cy="2421.8" r="5.3"/></g>
<g id="s93-120"><circle cx="328.7" cy="2442" r="5.3"/></g>
<g id="s94-115"><circle cx="162" cy="2340.7" r="5.3"/></g>
<g id="s94-116"><circle cx="162" cy="2361" r="5.3"/></g>
<g id="s94-117"><circle cx="162" cy="2381.2" r="5.3"/></g>
<g id="s94-118"><circle cx="162" cy="2401.5" r="5.3"/></g>
<g id="s94-119"><circle cx="162" cy="2421.8" r="5.3"/></g>
<g id="s94-120"><circle cx="162" cy="2442" r="5.3"/></g>
<g id="s95-117"><circle cx="128.7" cy="2381.2" r="5.3"/></g>
<g id="s95-118"><circle cx="128.7" cy="2401.5" r="5.3"/></g>
<g id="s95-119"><circle cx="128.7" cy="2421.8" r="5.3"/></g>
<g id="s95-120"><circle cx="128.7" cy="2442" r="5.3"/></g>
<g id="s95-121"><circle cx="128.7" cy="2462.3" r="5.3"/></g>
<g id="s95-122"><circle cx="128.7" cy="2482.6" r="5.3"/></g>
<g id="s96-121"><circle cx="311.3" cy="2462.3" r="5.3"/></g>
<g id="s96-122"><circle cx="311.3" cy="2482.6" r="5.3"/></g>
<g id="s96-123"><circle cx="311.3" cy="2502.8" r="5.3"/></g>
<g id="s96-124"><circle cx="311.3" cy="2523.1" r="5.3"/></g>
<g id="s96-125"><circle cx="311.3" cy="2543.4" r="5.3"/></g>
<g id="s96-126"><circle cx="311.3" cy="2563.6" r="5.3"/></g>
<g id="s96-127"><circle cx="311.3" cy="2583.9" r="5.3"/></g>
<g id="s96-128"><circle cx="311.3" cy="2604.2" r="5.3"/></g>
<g id="s96-129"><circle cx="311.3" cy="2624.4" r="5.3"/></g>
<g id="s96-130"><circle cx="311.3" cy="2644.7" r="5.3"/></g>
<g id="s97-121"><circle cx="344.7" cy="2462.3" r="5.3"/></g>
<g id="s97-122"><circle cx="344.7" cy="2482.6" r="5.3"/></g>
<g id="s97-123"><circle cx="344.7" cy="2502.8" r="5.3"/></g>
<g id="s97-124"><circle cx="344.7" cy="2523.1" r="5.3"/></g>
<g id="s97-125"><circle cx="344.7" cy="2543.4" r="5.3"/></g>
<g id="s97-126"><circle cx="344.7" cy="2563.6" r="5.3"/></g>
<g id="s97-127"><circle cx="344.7" cy="2583.9" r="5.3"/></g>
<g id="s97-128"><circle cx="344.7" cy="2604.2" r="5.3"/></g>
<g id="s97-129"><circle cx="344.7" cy="2624.4" r="5.3"/></g>
<g id="s97-130"><circle cx="344.7" cy="2644.7" r="5.3"/></g>
<g id="s97-131"><circle cx="344.7" cy="2665" r="5.3"/></g>
<g id="s97-132"><circle cx="344.7" cy="2685.2" r="5.3"/></g>
<g id="s97-133"><circle cx="344.7" cy="2705.5" r="5.3"/></g>
<g id="s97-134"><circle cx="344.7" cy="2725.8" r="5.3"/></g>
<g id="s97-135"><circle cx="344.7" cy="2746" r="5.3"/></g>
<g id="s97-136"><circle cx="344.7" cy="2766.3" r="5.3"/></g>
<g id="s97-137"><circle cx="344.7" cy="2786.6" r="5.3"/></g>
<g id="s97-138"><circle cx="344.7" cy="2806.8" r="5.3"/></g>
<g id="s98-127"><circle cx="278" cy="2583.9" r="5.3"/></g>
<g id="s98-128"><circle cx="278" cy="2604.2" r="5.3"/></g>
<g id="s99-125"><circle cx="378" cy="2543.4" r="5.3"/></g>
<g id="s99-126"><circle cx="378" cy="2563.6" r="5.3"/></g>
<g id="s99-127"><circle cx="378" cy="2583.9" r="5.3"/></g>
<g id="s99-128"><circle cx="378" cy="2604.2" r="5.3"/></g>
<g id="s99-129"><circle cx="378" cy="2624.4" r="5.3"/></g>
<g id="s99-130"><circle cx="378" cy="2644.7" r="5.3"/></g>
<g id="s100-139"><circle cx="328.7" cy="2827.1" r="5.3"/></g>
<g id="s100-140"><circle cx="328.7" cy="2847.4" r="5.3"/></g>
<g id="s101-139"><circle cx="362" cy="2827.1" r="5.3"/></g>
<g id="s101-140"><circle cx="362" cy="2847.4" r="5.3"/></g>
<g id="s102-141"><circle cx="312.7" cy="2867.6" r="5.3"/></g>
<g id="s102-142"><circle cx="312.7" cy="2887.9" r="5.3"/></g>
<g id="s102-143"><circle cx="312.7" cy="2908.2" r="5.3"/></g>
<g id="s102-144"><circle cx="312.7" cy="2928.4" r="5.3"/></g>
<g id="s102-145"><circle cx="312.7" cy="2948.7" r="5.3"/></g>
<g id="s102-146"><circle cx="312.7" cy="2969" r="5.3"/></g>
<g id="s103-141"><circle cx="346" cy="2867.6" r="5.3"/></g>
<g id="s103-142"><circle cx="346" cy="2887.9" r="5.3"/></g>
<g id="s104-147"><circle cx="296.7" cy="2989.2" r="5.3"/></g>
<g id="s104-148"><circle cx="296.7" cy="3009.5" r="5.3"/></g>
<g id="s105-147"><circle cx="330" cy="2989.2" r="5.3"/></g>
<g id="s105-148"><circle cx="330" cy="3009.5" r="5.3"/></g>
<g id="s106-149"><circle cx="280.7" cy="3029.8" r="5.3"/></g>
<g id="s106-150"><circle cx="280.7" cy="3050.1" r="5.3"/></g>
<g id="s107-149"><circle cx="314" cy="3029.8" r="5.3"/></g>
<g id="s107-150"><circle cx="314" cy="3050.1" r="5.3"/></g>
<g id="s107-151"><circle cx="314" cy="3070.3" r="5.3"/></g>
<g id="s107-152"><circle cx="314" cy="3090.6" r="5.3"/></g>
<g id="s108-153"><circle cx="298" cy="3110.9" r="5.3"/></g>
<g id="s108-154"><circle cx="298" cy="3131.1" r="5.3"/></g>
<g id="s108-155"><circle cx="298" cy="3151.4" r="5.3"/></g>
<g id="s108-156"><circle cx="298" cy="3171.7" r="5.3"/></g>
<g id="s109-153"><circle cx="331.3" cy="3110.9" r="5.3"/></g>
<g id="s109-154"><circle cx="331.3" cy="3131.1" r="5.3"/></g>
<g id="s109-155"><circle cx="331.3" cy="3151.4" r="5.3"/></g>
<g id="s109-156"><circle cx="331.3" cy="3171.7" r="5.3"/></g>
<g id="s109-157"><circle cx="331.3" cy="3191.9" r="5.3"/></g>
<g id="s109-158"><circle cx="331.3" cy="3212.2" r="5.3"/></g>
<g id="s109-159"><circle cx="331.3" cy="3232.5" r="5.3"/></g>
<g id="s109-160"><circle cx="331.3" cy="3252.7" r="5.3"/></g>
<g id="s109-161"><circle cx="331.3" cy="3273" r="5.3"/></g>
<g id="s109-162"><circle cx="331.3" cy="3293.3" r="5.3"/></g>
<g id="s110-155"><circle cx="264.7" cy="3151.4" r="5.3"/></g>
<g id="s110-156"><circle cx="264.7" cy="3171.7" r="5.3"/></g>
<g id="s110-157"><circle cx="264.7" cy="3191.9" r="5.3"/></g>
<g id="s110-158"><circle cx="264.7" cy="3212.2" r="5.3"/></g>
<g id="s111-155"><circle cx="364.7" cy="3151.4" r="5.3"/></g>
<g id="s111-156"><circle cx="364.7" cy="3171.7" r="5.3"/></g>
</g>
</svg>
